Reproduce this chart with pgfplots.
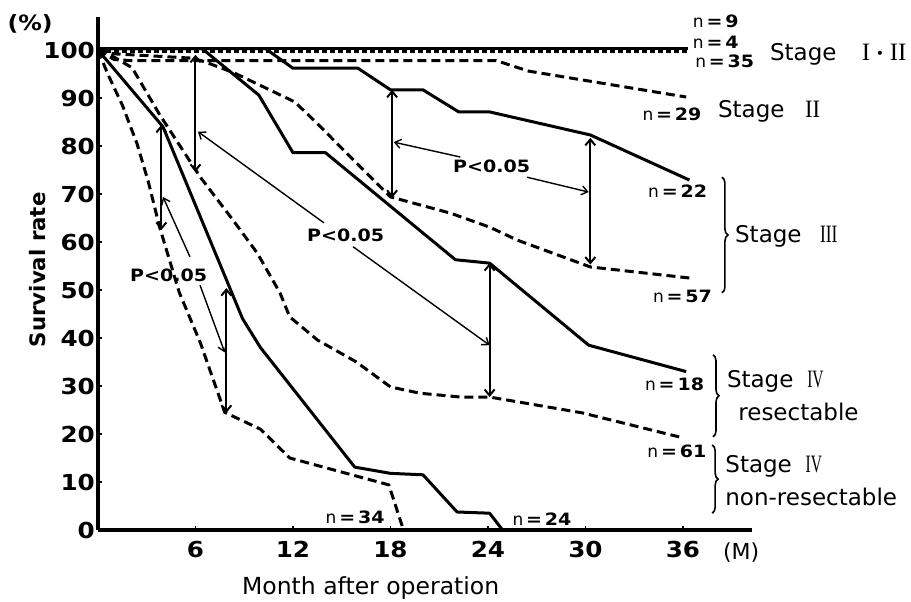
\documentclass[border=0pt]{standalone}
\usepackage{fontspec}
\setmainfont{DejaVu Sans}
\newfontfamily\tickfont{DejaVu Sans}[FakeStretch=1.12]
\newfontfamily\romanfont{Liberation Serif}
\usepackage{graphicx}
\usepackage{pgfplots}
\pgfplotsset{compat=1.18}
\usetikzlibrary{arrows.meta,decorations.pathreplacing}
\newcommand\nlab[1]{{\fontsize{17}{17}\selectfont n\,{\tickfont\bfseries =\,#1}}}
\newcommand\stagefont{\fontsize{23}{23}\selectfont}
\newcommand\rom[2]{{\romanfont\fontsize{25}{25}\selectfont\scalebox{#1}[1]{#2}}}
\tikzset{
  dbl/.style={{Straight Barb[length=6pt,width=10pt]}-{Straight Barb[length=6pt,width=10pt]}, line width=2pt},
  ptr/.style={-{Straight Barb[length=6pt,width=9pt]}, line width=1.4pt},
  lab/.style={anchor=base west, inner sep=0pt},
}
\begin{document}
\begin{tikzpicture}
\begin{axis}[
  scale only axis, width=654pt, height=513pt,
  xmin=0, xmax=40.25, ymin=0, ymax=106.875,
  axis lines*=left,
  axis line style={line width=3.5pt},
  xtick={6,12,18,24,30,36}, ytick={0,10,...,100},
  tick align=inside, major tick length=4pt,
  tick style={line width=1.4pt, black},
  /pgf/number format/assume math mode=true,
  ticklabel style={font=\tickfont\bfseries\fontsize{22}{22}\selectfont},
  yticklabel style={anchor=east, inner sep=0pt, xshift=-3pt},
  xticklabel style={anchor=north, inner sep=0pt, yshift=-11pt},
  clip=false,
  every axis plot/.append style={line width=3pt, line join=round},
  dl/.style={dash pattern=on 9pt off 5pt},
]
% Stage I (n=9) solid, n=4 dotted
\addplot[black] coordinates {(0,100.3) (36.3,100.3)};
\addplot[black, dash pattern=on 5pt off 3pt] coordinates {(0,99.6) (36.3,99.6)};
% Stage II dashed (n=29)
\addplot[black, dl] coordinates {(0,100) (1.0,98) (2,97.8) (24.5,97.8) (26.5,95.6) (36.2,90.2)};
% Stage III solid (n=22)
\addplot[black] coordinates {(0,100.3) (10.3,100.3) (12,96.2) (16,96.2) (18,91.7) (20,91.7) (22.2,87.1) (24.1,87.1) (30.3,82.3) (36.4,72.9)};
% Stage III dashed (n=57)
\addplot[black, dl] coordinates {(0,100) (1,99.2) (5.8,98.3) (6.6,97.5) (8.4,95.2) (12.1,89.2) (13.4,85) (14.5,81.25) (18,69.4) (21.7,66) (24.1,63.1) (25.8,60.4) (30.3,54.8) (36.4,52.5)};
% Stage IV resectable solid (n=18)
\addplot[black] coordinates {(0,100.3) (6.4,100.3) (9.9,90.6) (12,78.6) (14,78.6) (22,56.3) (24.1,55.6) (30.2,38.5) (36.2,33)};
% Stage IV resectable dashed (n=61)
\addplot[black, dl] coordinates {(0,100) (1,98.5) (2.1,96.3) (3.8,86.5) (6.3,73.5) (8.3,64.6) (9.8,57.7) (11.2,49.4) (11.8,44.4) (13.5,39.6) (15.9,35) (18,29.8) (19.8,28.5) (22.3,27.7) (24.1,27.7) (29.8,24.4) (36,19.2)};
% Stage IV non-resectable solid (n=24)
\addplot[black] coordinates {(0,100) (4,84) (8.9,44) (10,38) (15.8,13.1) (18,11.8) (20,11.5) (22.1,3.75) (24.1,3.5) (24.9,0)};
% Stage IV non-resectable dashed (n=34)
\addplot[black, dl] coordinates {(0,100) (0.6,95) (1.5,88.5) (2.4,80.5) (3.1,72.5) (3.8,63) (5,49.5) (6.3,39) (7.8,24.5) (10,21) (11.8,15) (17.9,9.4) (18.8,0)};
% vertical double arrows
\addplot[black, dbl] coordinates {(6,99) (6,74.6)};
\addplot[black, dbl] coordinates {(3.9,84.4) (3.9,62.5)};
\addplot[black, dbl] coordinates {(7.9,50.4) (7.9,24.4)};
\addplot[black, dbl] coordinates {(18.1,91.7) (18.1,69.2)};
\addplot[black, dbl] coordinates {(24.1,55.6) (24.1,27.7)};
\addplot[black, dbl] coordinates {(30.3,81.7) (30.3,55.3)};
% pointer arrows
\addplot[black, ptr] coordinates {(5.66,56.9) (4.0,69.4)};
\addplot[black, ptr] coordinates {(6.28,51) (7.8,37)};
\addplot[black, ptr] coordinates {(13.9,64) (6.15,83)};
\addplot[black, ptr] coordinates {(15.7,59) (24.1,38.5)};
\addplot[black, ptr] coordinates {(22.3,77.7) (18.2,80.8)};
\addplot[black, ptr] coordinates {(26.4,73.5) (30.2,70.4)};
% P labels
\node[lab] at (axis cs:1.97,51.7) {\tickfont\bfseries\fontsize{17}{17}\selectfont P<0.05};
\node[lab] at (axis cs:12.86,60) {\tickfont\bfseries\fontsize{17}{17}\selectfont P<0.05};
\node[lab] at (axis cs:21.85,74.4) {\tickfont\bfseries\fontsize{17}{17}\selectfont P<0.05};
% n labels
\node[lab] at (axis cs:36.6,104.6) {\nlab{9}};
\node[lab] at (axis cs:36.6,100.4) {\nlab{4}};
\node[lab] at (axis cs:36.75,96.25) {\nlab{35}};
\node[lab] at (axis cs:33.5,85.4) {\nlab{29}};
\node[lab] at (axis cs:33.85,69.2) {\nlab{22}};
\node[lab] at (axis cs:34.15,47.3) {\nlab{57}};
\node[lab] at (axis cs:33.66,29) {\nlab{18}};
\node[lab] at (axis cs:33.8,15.2) {\nlab{61}};
\node[lab] at (axis cs:25.5,1.0) {\nlab{24}};
\node[lab] at (axis cs:14.0,1.25) {\nlab{34}};
% stage labels
\node[lab] at (axis cs:41.35,97.9) {\stagefont Stage\hspace{1.1em}\rom{1}{I}\hspace{0.25em}{\fontsize{14}{14}\selectfont\raisebox{2pt}{•}}\hspace{0.25em}\rom{1}{II}};
\node[lab] at (axis cs:38.15,86.0) {\stagefont Stage\hspace{0.9em}\rom{0.9}{II}};
\node[lab] at (axis cs:39.2,59.8) {\stagefont Stage\hspace{0.8em}\rom{0.7}{III}};
\node[lab] at (axis cs:38.7,29.6) {\stagefont Stage\hspace{0.6em}\rom{0.62}{IV}};
\node[lab] at (axis cs:39.4,22.9) {\stagefont resectable};
\node[lab] at (axis cs:38.6,11.9) {\stagefont Stage\hspace{0.6em}\rom{0.62}{IV}};
\node[lab] at (axis cs:38.6,5.2) {\stagefont non-resectable};
% braces
\draw[decorate, decoration={brace, amplitude=6pt}, line width=1.6pt] (axis cs:38.4,73.5) -- (axis cs:38.4,49.4);
\draw[decorate, decoration={brace, amplitude=6pt}, line width=1.6pt] (axis cs:37.85,36.5) -- (axis cs:37.85,19.4);
\draw[decorate, decoration={brace, amplitude=6pt}, line width=1.6pt] (axis cs:37.8,17.7) -- (axis cs:37.8,3.5);
% axis texts
\node[lab] at (axis cs:38.46,-6.25) {\fontsize{22}{22}\selectfont (M)};
\node[anchor=center, inner sep=0pt] at (axis cs:-4.18,105.4) {\tickfont\bfseries\fontsize{21}{21}\selectfont (\%)};
\node[lab] at (axis cs:8.86,-13.5) {\fontsize{23.5}{23.5}\selectfont Month after operation};
\node[anchor=center, inner sep=0pt, rotate=90] at (axis cs:-3.69,54.2) {\bfseries\fontsize{21.3}{21.3}\selectfont Survival rate};
\end{axis}
\pgfresetboundingbox
\path[use as bounding box] (-98pt,-72pt) rectangle (813pt,530pt);
\end{tikzpicture}
\end{document}
